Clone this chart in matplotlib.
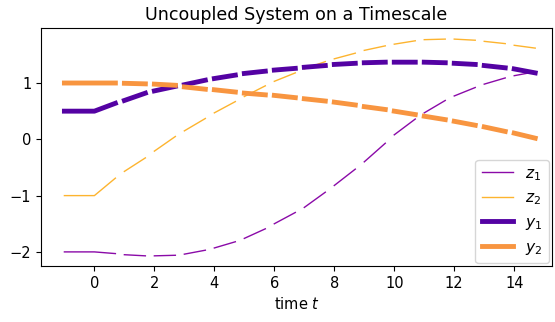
import numpy as np
import matplotlib
matplotlib.use("Agg")
import matplotlib.pyplot as plt

# time points: history [-1, 0], then timescale intervals [k, k+0.7]
times = [-1, 0, 0.7, 1, 1.7, 2, 2.7, 3, 3.7, 4, 4.7, 5, 5.7, 6, 6.7, 7, 7.7,
         8, 8.7, 9, 9.7, 10, 10.7, 11, 11.7, 12, 12.7, 13, 13.7, 14, 14.7]

z1 = [-2.0, -2.0, -2.03, -2.05, -2.07, -2.07, -2.06, -2.04, -1.97, -1.93, -1.82,
      -1.76, -1.59, -1.50, -1.30, -1.21, -0.94, -0.82, -0.53, -0.40, -0.07,
      0.08, 0.36, 0.47, 0.69, 0.77, 0.92, 0.98, 1.09, 1.13, 1.20]
z2 = [-1.0, -1.0, -0.69, -0.57, -0.33, -0.21, 0.05, 0.15, 0.37, 0.47, 0.67,
      0.76, 0.95, 1.03, 1.18, 1.25, 1.38, 1.43, 1.53, 1.58, 1.66, 1.69, 1.75,
      1.77, 1.78, 1.78, 1.76, 1.74, 1.70, 1.67, 1.62]
y1 = [0.5, 0.5, 0.64, 0.69, 0.82, 0.86, 0.94, 0.97, 1.05, 1.08, 1.14, 1.17,
      1.21, 1.23, 1.26, 1.28, 1.31, 1.33, 1.35, 1.36, 1.37, 1.37, 1.37, 1.37,
      1.36, 1.35, 1.33, 1.31, 1.27, 1.25, 1.18]
y2 = [1.0, 1.0, 1.0, 0.995, 0.985, 0.98, 0.96, 0.93, 0.89, 0.88, 0.84, 0.82,
      0.79, 0.78, 0.74, 0.72, 0.68, 0.66, 0.61, 0.58, 0.53, 0.50, 0.44, 0.41,
      0.35, 0.32, 0.25, 0.22, 0.14, 0.11, 0.02]

labels = ["$z_1$", "$z_2$", "$y_1$", "$y_2$"]
colors = ["#8a0aa8", "#fdb42f", "#5402a3", "#f89540"]
widths = [1.0, 1.0, 3.5, 3.5]


def with_gaps(t, v):
    """Insert NaN breaks between timescale intervals (after index 2, 4, 6, ...)."""
    t = list(t)
    v = list(v)
    ot, ov = [], []
    for i in range(len(t)):
        ot.append(t[i])
        ov.append(v[i])
        if i >= 2 and i % 2 == 0 and i < len(t) - 1:
            ot.append(np.nan)
            ov.append(np.nan)
    return np.array(ot), np.array(ov)


fig = plt.figure(figsize=(5.55, 3.22), dpi=100)
ax = fig.add_axes([0.0739, 0.174, 0.9207, 0.739])

for series, lab, col, lw in zip([z1, z2, y1, y2], labels, colors, widths):
    tt, vv = with_gaps(times, series)
    ax.plot(tt, vv, color=col, lw=lw, label=lab)

ax.set_xlim(-1.78, 15.26)
ax.set_ylim(-2.25, 1.977)
ax.set_xticks([0, 2, 4, 6, 8, 10, 12, 14])
ax.set_yticks([-2, -1, 0, 1])
ax.tick_params(labelsize=10.5)
ax.set_xlabel("time $t$", fontsize=10.5)
ax.set_title("Uncoupled System on a Timescale", fontsize=12.6)
ax.legend(loc="lower right", fontsize=11.2, borderaxespad=0.2)

fig.savefig("out.png", dpi=100)
